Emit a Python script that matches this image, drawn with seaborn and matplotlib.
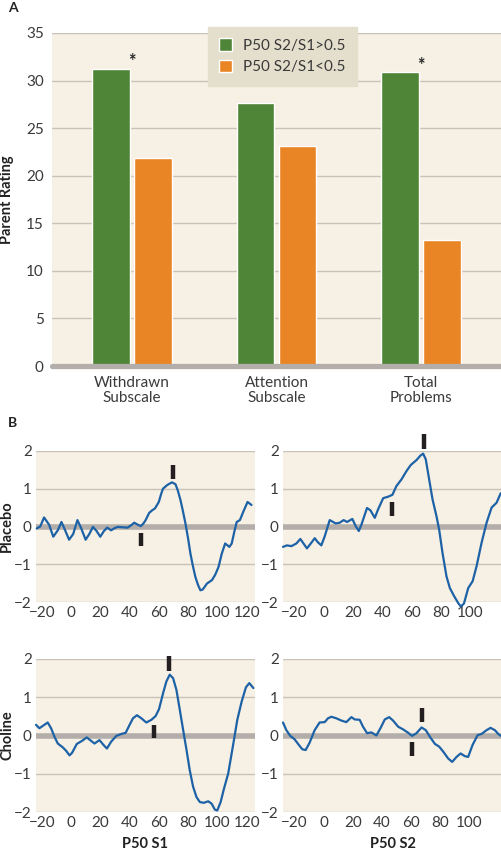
import numpy as np
import pandas as pd
import seaborn as sns
import matplotlib.pyplot as plt

# ---- colours
green = "#4e8536"
orange = "#ea8526"
beige = "#f7f0e4"
legend_bg = "#e4dfcc"
grid_c = "#c9c2b8"
zero_c = "#b3aea9"
blue = "#1d62a6"
mark_c = "#231f20"

# ---- panel A data
scales = ["Withdrawn\nSubscale", "Attention\nSubscale", "Total\nProblems"]
groups = ["P50 S2/S1>0.5", "P50 S2/S1<0.5"]
high_ratio = [31.2, 27.6, 30.9]
low_ratio = [21.9, 23.1, 13.2]
star_pos = [0, 2]
star_y = [32.0, 31.6]

# ---- panel B data (amplitude vs ms)
placebo_s1_ms = [-23.4, -21, -18.4, -15, -12.1, -9, -6.5, -4, -1.3, 1.5, 4.4, 7, 10, 12.5, 15,
                 17.5, 20, 22.5, 24.7, 27.4, 30, 32, 35, 38.7, 41, 43.2, 45.5, 47.7, 49.5, 51,
                 53.4, 55.5, 57.4, 60, 61.5, 62.8, 65.8, 69, 71.4, 73, 74.8, 76.5, 78.2, 80,
                 81.6, 83.3, 85, 86.8, 88.4, 90, 92.9, 96.3, 98.5, 100.8, 103, 105.3, 108.2,
                 109.8, 111.5, 113.2, 115.4, 117.7, 120.6, 123.3]
placebo_s1_amp = [-0.05, 0.0, 0.24, 0.05, -0.27, -0.1, 0.12, -0.1, -0.35, -0.2, 0.17, -0.05,
                  -0.35, -0.2, -0.01, -0.12, -0.27, -0.12, -0.03, -0.1, -0.04, -0.01, -0.02,
                  -0.03, 0.03, 0.1, 0.05, 0.01, 0.08, 0.17, 0.36, 0.43, 0.48, 0.65, 0.85, 1.0,
                  1.1, 1.17, 1.12, 0.95, 0.7, 0.4, 0.08, -0.32, -0.72, -1.05, -1.34, -1.55,
                  -1.69, -1.67, -1.51, -1.42, -1.28, -1.07, -0.72, -0.45, -0.54, -0.45, -0.15,
                  0.12, 0.17, 0.39, 0.65, 0.57]
placebo_s1_marks = [70, 47.5]
placebo_s1_lo = [1.27, -0.52]
placebo_s1_hi = [1.63, -0.17]

placebo_s2_ms = [-27.7, -25, -22, -18.6, -15.9, -14.1, -11.4, -8.4, -6.1, -3.9, -1.6, 0.7,
                 4.1, 8.2, 10.9, 13.6, 15.9, 19.5, 21.8, 23.9, 25.7, 29.5, 31.8, 34.8, 37,
                 40.5, 43.9, 46.8, 49.5, 53, 56.4, 59.3, 63.2, 65.9, 67.7, 69.5, 71.8, 74.1,
                 76.8, 78.6, 80.9, 83.6, 85.9, 88.6, 91.6, 93.4, 95.5, 98.4, 101.4, 104.1,
                 107.5, 110.9, 114.3, 117.7, 120.5]
placebo_s2_amp = [-0.54, -0.5, -0.52, -0.45, -0.33, -0.43, -0.58, -0.43, -0.31, -0.42, -0.5,
                  -0.26, 0.17, 0.08, 0.1, 0.17, 0.12, 0.2, 0.01, -0.12, 0.05, 0.49, 0.43, 0.23,
                  0.45, 0.75, 0.79, 0.84, 1.07, 1.25, 1.47, 1.63, 1.76, 1.88, 1.93, 1.78, 1.25,
                  0.72, 0.27, -0.08, -0.7, -1.32, -1.63, -1.83, -2.03, -2.12, -2.04, -1.63,
                  -1.45, -1.05, -0.43, 0.1, 0.5, 0.63, 0.88]
placebo_s2_marks = [68.4, 46.8]
placebo_s2_lo = [2.06, 0.27]
placebo_s2_hi = [2.44, 0.65]

choline_s1_ms = [-24, -21.7, -19.4, -16, -13.7, -11.4, -9.1, -5.7, -3.4, -1.1, 0.7, 3.9, 7.5,
                 10.7, 13, 16, 19.4, 22.2, 24.5, 27.4, 30.9, 34.3, 37.3, 40, 42.3, 45, 48,
                 51.4, 54.9, 57.8, 60.1, 62.9, 65.1, 67.4, 69.7, 72, 74.3, 76.6, 78.9, 81.1,
                 83.4, 85.7, 88, 90.7, 93.7, 96, 98.3, 99.9, 102.2, 104.5, 107.4, 110.9,
                 113.6, 116.6, 119.5, 121.8, 124.6]
choline_s1_amp = [0.28, 0.19, 0.25, 0.34, 0.19, -0.03, -0.21, -0.31, -0.4, -0.52, -0.45,
                  -0.22, -0.14, -0.05, -0.12, -0.21, -0.12, -0.25, -0.34, -0.16, -0.01, 0.04,
                  0.07, 0.28, 0.45, 0.53, 0.45, 0.34, 0.41, 0.51, 0.69, 1.11, 1.41, 1.59, 1.5,
                  1.19, 0.67, 0.14, -0.38, -0.91, -1.34, -1.61, -1.74, -1.76, -1.72, -1.78,
                  -1.94, -1.96, -1.74, -1.39, -0.99, -0.21, 0.41, 0.89, 1.26, 1.37, 1.24]
choline_s1_marks = [66.7, 56.7]
choline_s1_lo = [1.69, -0.07]
choline_s1_hi = [2.07, 0.28]

choline_s2_ms = [-28, -25.7, -23, -20, -17, -14.7, -12.4, -9.7, -6.2, -2.8, 0.7, 3, 5.3, 8.7,
                 12.2, 15.6, 19.1, 21.4, 24.8, 27.1, 29.9, 32.9, 36.3, 39.1, 42.1, 45.1, 47.8,
                 51.3, 54.7, 58.2, 60.9, 63.9, 67.4, 70.3, 73.1, 76.6, 79.5, 82.3, 85.7, 88.5,
                 91.5, 94.3, 97.2, 99.5, 102.5, 106, 108.7, 112.2, 114.9, 117.9, 120.2, 122.8]
choline_s2_amp = [0.34, 0.14, -0.01, -0.1, -0.25, -0.36, -0.38, -0.19, 0.14, 0.34, 0.35, 0.45,
                  0.49, 0.45, 0.39, 0.35, 0.48, 0.42, 0.41, 0.23, 0.06, 0.08, 0.0, 0.19, 0.42,
                  0.48, 0.39, 0.23, 0.16, 0.07, -0.01, 0.06, 0.21, 0.14, -0.03, -0.22, -0.29,
                  -0.42, -0.6, -0.69, -0.56, -0.47, -0.54, -0.56, -0.25, 0.01, 0.04, 0.14, 0.2,
                  0.14, 0.04, -0.03]
choline_s2_marks = [68, 61.1]
choline_s2_lo = [0.36, -0.54]
choline_s2_hi = [0.73, -0.18]

sns.set_style("white")
plt.rcParams["font.family"] = ["Lato", "DejaVu Sans"]
plt.rcParams["axes.unicode_minus"] = True

W, H = 502, 850
fig = plt.figure(figsize=(W / 100, H / 100), dpi=100)
tick_size = 11
txt_c = "#3a3a3a"


def box(x0, y0, x1, y1):
    # pixel box -> figure fraction rect
    return [x0 / W, 1 - y1 / H, (x1 - x0) / W, (y1 - y0) / H]


def clean(ax):
    ax.set_facecolor(beige)
    for s in ax.spines.values():
        s.set_visible(False)
    ax.tick_params(length=0, labelsize=tick_size, colors=txt_c)


# ---- panel A
ax_a = fig.add_axes(box(52, 33, 502, 366))
clean(ax_a)
df = pd.DataFrame({
    "scale": scales * 2,
    "group": [groups[0]] * 3 + [groups[1]] * 3,
    "rating": high_ratio + low_ratio,
})
sns.barplot(data=df, x="scale", y="rating", hue="group", palette=[green, orange],
            width=0.577, gap=0.1, saturation=1, ax=ax_a)
ax_a.set_ylim(0, 35)
ax_a.set_xlim(-0.554, 2.56)
ax_a.set_yticks(range(0, 36, 5))
ax_a.yaxis.grid(True, color=grid_c, lw=1)
ax_a.set_axisbelow(True)
ax_a.axhline(0, color=zero_c, lw=3.8, zorder=3, clip_on=False)
ax_a.tick_params(axis="x", pad=7)
ax_a.tick_params(axis="y", pad=6)
for t in ax_a.get_xticklabels():
    t.set_linespacing(1.1)
ax_a.set_xlabel("")
ax_a.set_ylabel("Parent Rating", fontsize=10.5, fontweight="bold", color="#222222")
ax_a.yaxis.set_label_coords(-0.084, 0.5)
for xp, yp in zip(star_pos, star_y):
    ax_a.text(xp, yp, "*", ha="center", va="center", fontsize=13, fontweight="bold")
handles, labels = ax_a.get_legend_handles_labels()
leg = ax_a.legend(handles, labels, loc="upper left", bbox_to_anchor=(208 / W, 1 - 27 / H),
                  bbox_transform=fig.transFigure, borderaxespad=0, fancybox=False,
                  facecolor=legend_bg, edgecolor=legend_bg, framealpha=1, fontsize=11,
                  handlelength=0.85, handleheight=0.85, handletextpad=0.7, labelspacing=0.45,
                  borderpad=0.75)
for t in leg.get_texts():
    t.set_color(txt_c)

fig.text(8 / W, 1 - 8 / H, "A", fontsize=10, fontweight="bold", va="center", color="#222222")
fig.text(8 / W, 1 - 423 / H, "B", fontsize=10, fontweight="bold", va="center", color="#222222")


# ---- panel B
def erp(rect, ms, amp, mx, lo, hi, xlim, xticks, ylabel=None, xlabel=None):
    ax = fig.add_axes(box(*rect))
    clean(ax)
    ax.set_ylim(-2, 2)
    ax.set_xlim(*xlim)
    ax.set_yticks([-2, -1, 0, 1, 2])
    ax.set_xticks(xticks)
    ax.yaxis.grid(True, color=grid_c, lw=1)
    ax.set_axisbelow(True)
    ax.axhline(0, color=zero_c, lw=4, zorder=1)
    sns.lineplot(x=ms, y=amp, ax=ax, color=blue, lw=1.6, zorder=3)
    ax.lines[-1].set_clip_on(False)
    ax.lines[-1].set_solid_joinstyle("round")
    ax.vlines(mx, lo, hi, color=mark_c, lw=3.2, zorder=4, clip_on=False)
    ax.tick_params(axis="y", pad=3)
    ax.tick_params(axis="x", pad=3)
    ax.set_ylabel(ylabel if ylabel else "", fontsize=10.5, fontweight="bold", color="#222222")
    ax.set_xlabel(xlabel if xlabel else "", fontsize=10.5, fontweight="bold", labelpad=5,
                  color="#222222")
    return ax


ax1 = erp((36, 451, 255, 602), placebo_s1_ms, placebo_s1_amp, placebo_s1_marks,
          placebo_s1_lo, placebo_s1_hi, (-23.9, 125.7), range(-20, 121, 20), ylabel="Placebo")
ax2 = erp((283, 451, 502, 602), placebo_s2_ms, placebo_s2_amp, placebo_s2_marks,
          placebo_s2_lo, placebo_s2_hi, (-27.7, 121.4), range(-20, 101, 20))
ax3 = erp((36, 659, 255, 812), choline_s1_ms, choline_s1_amp, choline_s1_marks,
          choline_s1_lo, choline_s1_hi, (-24, 125.7), range(-20, 121, 20),
          ylabel="Choline", xlabel="P50 S1")
ax4 = erp((283, 659, 502, 812), choline_s2_ms, choline_s2_amp, choline_s2_marks,
          choline_s2_lo, choline_s2_hi, (-28, 122.8), range(-20, 101, 20), xlabel="P50 S2")
for ax in (ax1, ax3):
    ax.yaxis.set_label_coords(-22 / 219, 0.5)

fig.savefig("out.png", dpi=100)
